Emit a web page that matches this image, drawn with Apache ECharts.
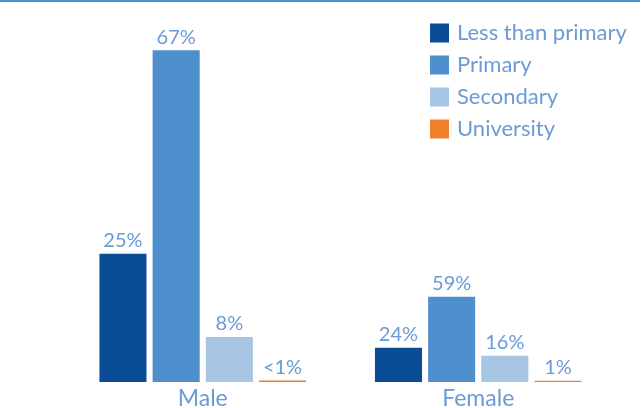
<!DOCTYPE html>
<html>
<head>
<meta charset="utf-8">
<script src="https://cdn.jsdelivr.net/npm/echarts@6/dist/echarts.min.js"></script>
<style>
  html, body { margin: 0; padding: 0; background: #fff; }
  #chart { width: 644px; height: 408px; }
</style>
</head>
<body>
<div id="chart"></div>
<script>
// groups on the x axis
const groups = ['Male', 'Female']
// education levels (one series each)
const levels = ['Less than primary', 'Primary', 'Secondary', 'University']
// bar heights as drawn in the picture (same unit for both groups)
const maleHeights = [25.9, 67, 9.1, 0.3]
const femaleHeights = [6.9, 17.2, 5.3, 0.27]
// printed labels above the bars
const maleLabels = ['25%', '67%', '8%', '<1%']
const femaleLabels = ['24%', '59%', '16%', '1%']

const colors = ['#0b4c97', '#4e8fce', '#a7c5e5', '#f07f2c']
const textColor = '#6a9bd6'
const font = 'Lato'

const chart = echarts.init(document.getElementById('chart'))

const series = levels.map((name, i) => ({
  name: name,
  type: 'bar',
  barGap: '13%',
  barCategoryGap: '25%',
  itemStyle: { color: colors[i] },
  data: [maleHeights[i], femaleHeights[i]],
  label: {
    show: true,
    position: 'top',
    distance: 3,
    color: textColor,
    fontFamily: font,
    fontSize: 20,
    formatter: p => (p.dataIndex === 0 ? maleLabels : femaleLabels)[i]
  }
}))

chart.setOption({
  animation: false,
  color: colors,
  grid: { left: 65, right: 28, top: 35.5, bottom: 26, outerBoundsMode: 'none', containLabel: false },
  legend: {
    orient: 'vertical',
    left: 425,
    top: 17,
    icon: 'rect',
    itemWidth: 19,
    itemHeight: 19,
    itemGap: 10,
    textStyle: { color: textColor, fontFamily: font, fontSize: 22, padding: [0, 0, 0, 3] },
    data: levels
  },
  xAxis: {
    type: 'category',
    data: groups,
    axisLine: { show: false },
    axisTick: { show: false },
    axisLabel: { color: textColor, fontFamily: font, fontSize: 23, margin: 5 }
  },
  yAxis: {
    type: 'value',
    min: 0,
    max: 70,
    show: false
  },
  graphic: [{
    type: 'rect',
    shape: { x: 0, y: 0, width: 640, height: 2 },
    style: { fill: '#4e8fce' }
  }],
  series: series
})
</script>
</body>
</html>
